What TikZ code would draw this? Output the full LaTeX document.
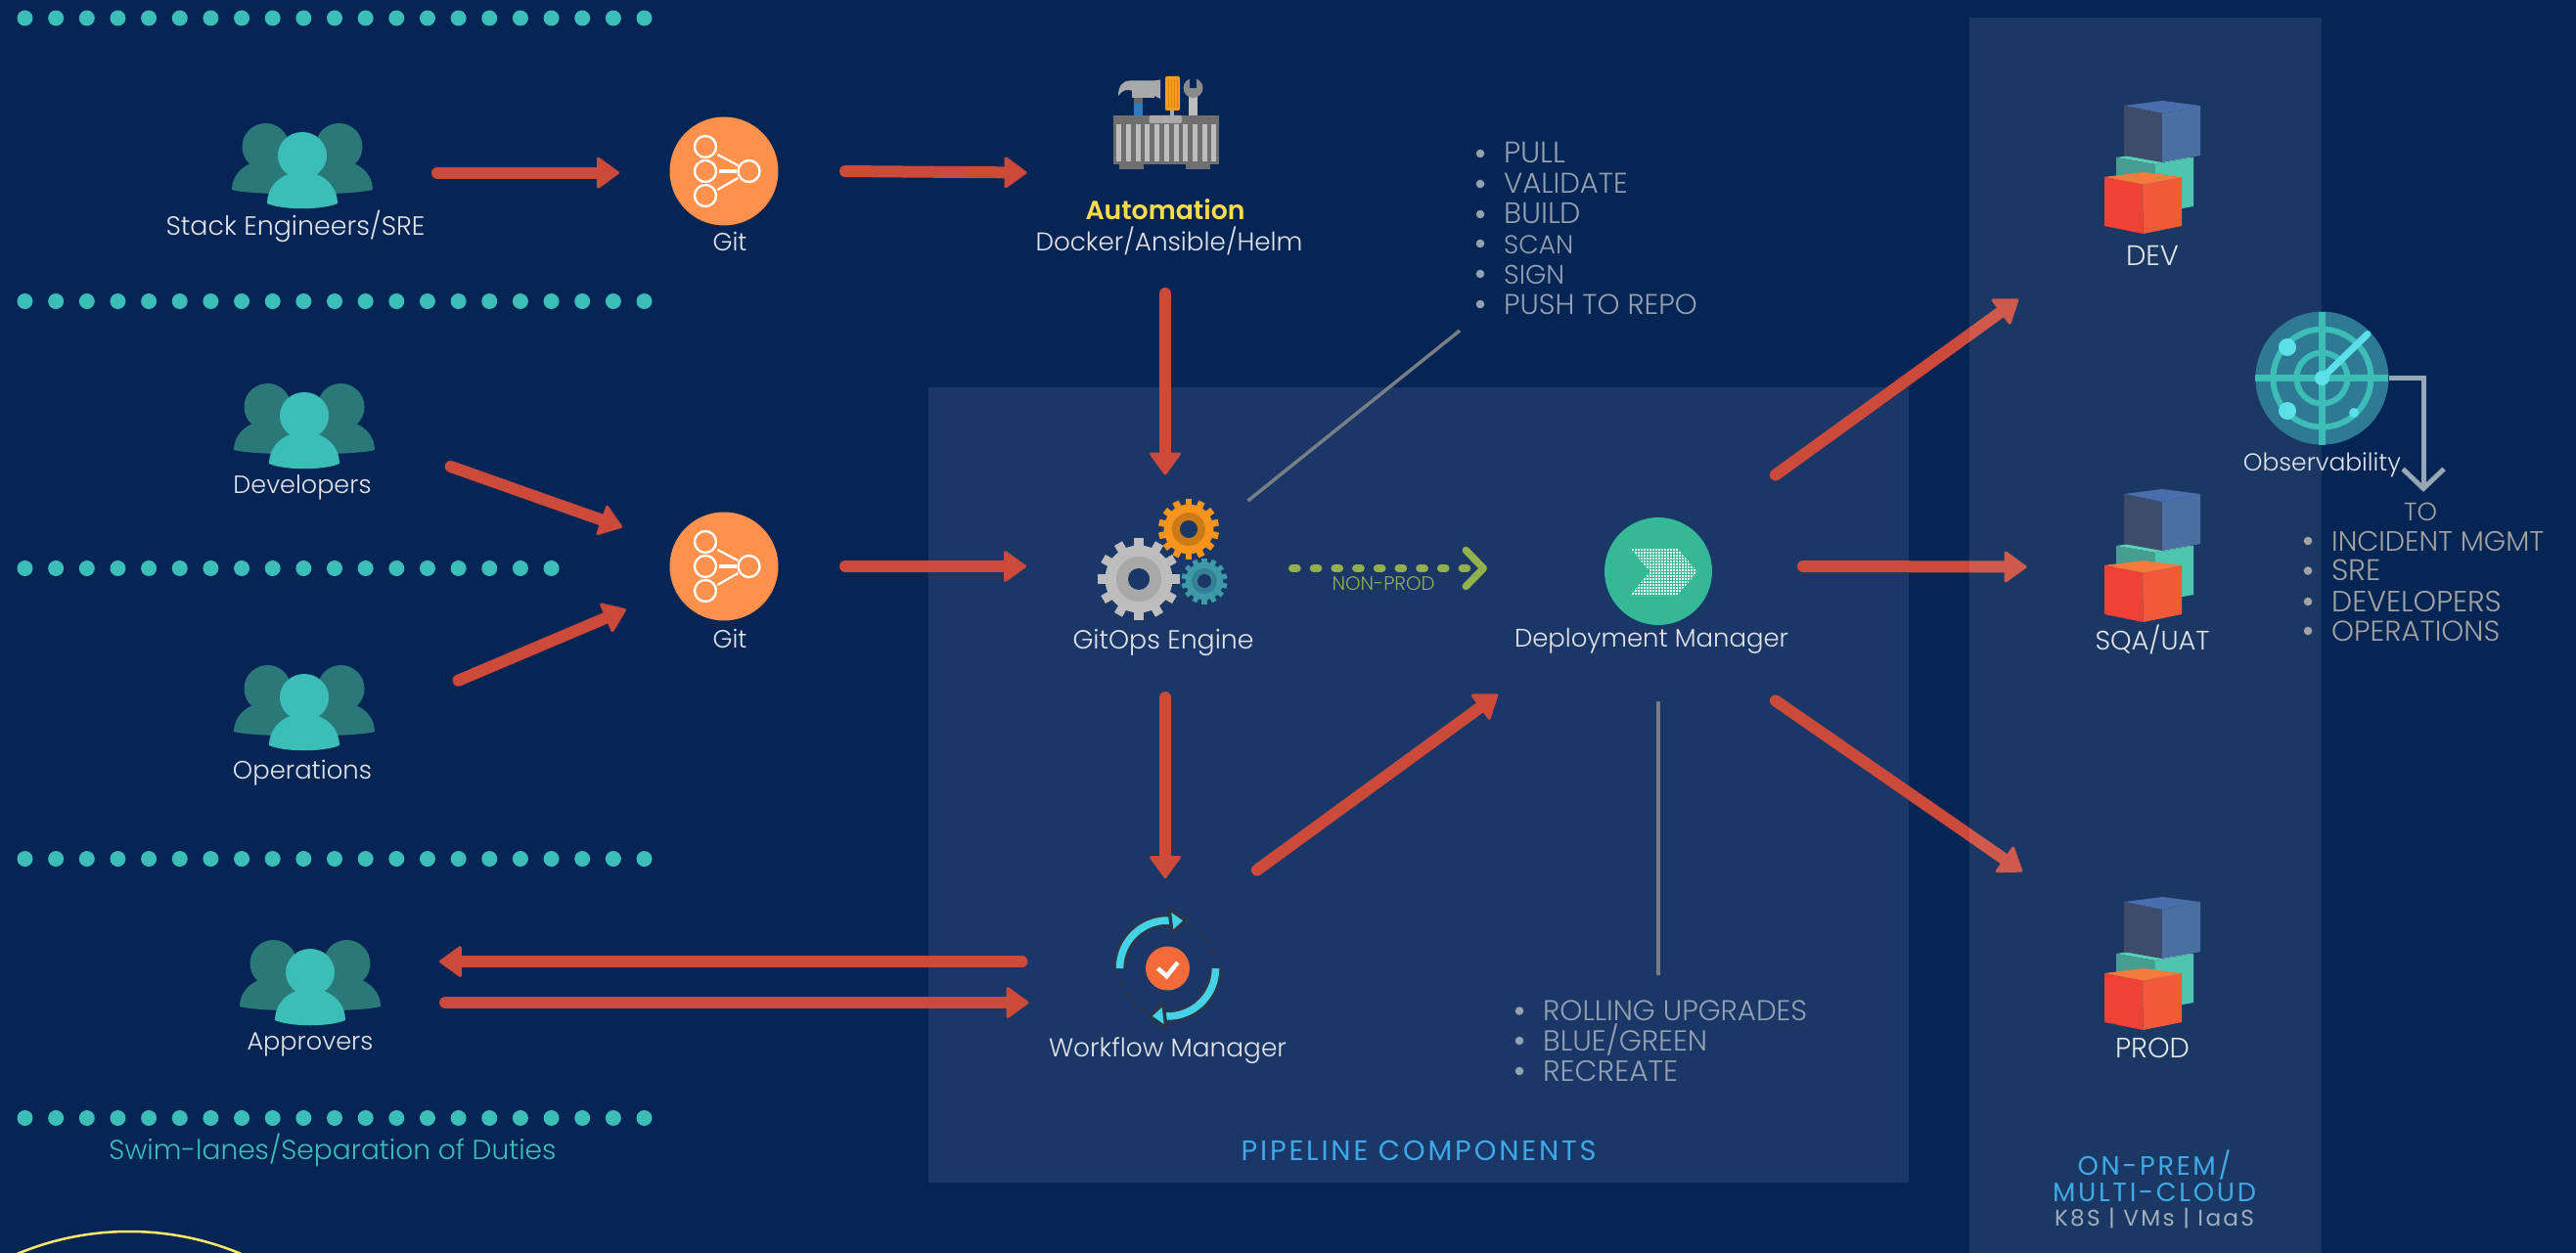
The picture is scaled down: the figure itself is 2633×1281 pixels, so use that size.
\documentclass[tikz,border=0pt]{standalone}
\usepackage{graphicx}
\usepackage{fontspec}
\setmainfont{Poppins}[UprightFont=* Light,BoldFont=* SemiBold]
\newfontfamily\spaced{Poppins}[LetterSpace=10]
\usetikzlibrary{arrows.meta,calc}
\definecolor{bgc}{HTML}{052555}
\definecolor{panelc}{HTML}{1A3767}
\definecolor{redc}{HTML}{CB4A3A}
\definecolor{tealc}{HTML}{3DBDB8}
\definecolor{dteal}{HTML}{2B7878}
\definecolor{lblc}{HTML}{E2E4E8}
\definecolor{listc}{HTML}{94A1B0}
\definecolor{greyl}{HTML}{787D86}
\definecolor{greenc}{HTML}{93B04E}
\definecolor{bluec}{HTML}{3FA9E8}
\definecolor{orgc}{HTML}{FF914D}
\definecolor{cyanc}{HTML}{45D2E8}
\definecolor{darkc}{HTML}{2B3648}
\definecolor{depc}{HTML}{35B895}
\definecolor{kc}{HTML}{A0AEBC}
\definecolor{toc}{HTML}{A3A3A3}
\definecolor{yelc}{HTML}{FFDD4A}
\newcommand\fit[2]{\resizebox{#1pt}{!}{#2}}
\newcommand\rowdots[2]{\foreach \i in {1,...,#2}{\fill[tealc] ({25.5+(\i-1)*31.65},#1) circle (8);}}
\newcommand\people[2]{%
\begin{scope}[shift={(#1,#2)}]
\fill[dteal] (-37.5,24) ellipse (24 and 24) (37.5,24) ellipse (24 and 24);
\fill[dteal] (-72,68) .. controls (-72,54) and (-62,44) .. (-50,40) -- (50,40) .. controls (62,44) and (72,54) .. (72,68) .. controls (50,74) and (-50,74) .. (-72,68) -- cycle;
\fill[tealc] (0,33) ellipse (25 and 24);
\fill[tealc] (-36,82) .. controls (-36,67) and (-26,56) .. (-14,52) -- (14,52) .. controls (26,56) and (36,67) .. (36,82) .. controls (20,89) and (-20,89) .. (-36,82) -- cycle;
\end{scope}}
\newcommand\gitmark[1]{%
\begin{scope}[shift={(#1)}]
\draw[white,line width=2.4] (-19,-25) circle (11) (-19,0) circle (11) (-19,25) circle (11) (25.5,0) circle (11);
\draw[white,line width=2.2] (-6.6,-17) -- (14.3,-6) (-6.6,19) -- (14.3,7);
\draw[white,line width=3.5] (-5,0) -- (13,0);
\end{scope}}
\newcommand\gearicon[8]{%
\begin{scope}[shift={(#1,#2)}]
\foreach \i in {1,...,#8}{\fill[#6,rotate=\i*360/#8] ({-#3*.11},0) rectangle ({#3*.11},#3);}
\fill[#6] (0,0) circle ({#3*.82});
\fill[#7] (0,0) circle (#4);
\fill[panelc] (0,0) circle (#5);
\end{scope}}
\newcommand\cubes[1]{%
\begin{scope}[shift={(2210,#1)}]
\fill[HTML=5AD0B5] (-47,58) -- (-7,52) -- (32,58) -- (-7,65) -- cycle;
\fill[HTML=459E90] (-47,58) -- (-7,65) -- (-7,115) -- (-47,108) -- cycle;
\fill[HTML=4FC4AE] (32,58) -- (-7,65) -- (-7,115) -- (32,108) -- cycle;
\fill[HTML=4A6DAB] (-39,5) -- (0,0) -- (39,5) -- (0,13) -- cycle;
\fill[HTML=3E4C6C] (-39,5) -- (0,13) -- (0,63) -- (-39,56) -- cycle;
\fill[HTML=4A6FA0] (39,5) -- (0,13) -- (0,63) -- (39,56) -- cycle;
\fill[HTML=F47B3E] (-59,78) -- (-19.5,73) -- (20,78) -- (-19.5,85.5) -- cycle;
\fill[HTML=EF4136] (-59,78) -- (-19.5,85.5) -- (-19.5,136) -- (-59,128) -- cycle;
\fill[HTML=F15A36] (20,78) -- (-19.5,85.5) -- (-19.5,136) -- (20,128) -- cycle;
\end{scope}}
\newcommand\wfhalf{%
\draw[darkc,line width=13] (-49,0) arc (180:274:49);
\draw[cyanc,line width=7.5] (-49,0) arc (180:274:49);
\fill[cyanc,draw=darkc,line width=3.5,line join=round] (1.5,-61) -- (18.5,-49) -- (4.5,-36) -- cycle;
\draw[darkc,line width=4,dash pattern=on 4 off 7] (24,-43) arc (-60.8:-8:49.5);}
\tikzset{
 HTML/.code={\definecolor{tmpc}{HTML}{#1}\pgfkeysalso{color=tmpc}},
 flow/.style={redc,line width=12,line cap=round,shorten <=6pt,-{Triangle[length=24pt,width=34pt,line width=3pt,round]}},
 leader/.style={greyl,line width=3.5},
 lbl/.style={text=lblc,anchor=base,yshift=-10pt,inner sep=0,font=\fontsize{24}{28}\selectfont},
 litem/.style={text=listc,anchor=base west,yshift=-10pt,inner sep=0,font=\fontsize{24}{28}\selectfont},
 bullet/.style={circle,fill=listc,minimum size=8.6pt,inner sep=0},
 ttl/.style={text=bluec,anchor=base,yshift=-10pt,inner sep=0,font=\fontsize{24}{28}\spaced},
}
\begin{document}
\begin{tikzpicture}[x=1pt,y=-1pt]
\useasboundingbox (0,0) rectangle (2633,1281);
\clip (0,0) rectangle (2633,1281);
\fill[bgc] (0,0) rectangle (2633,1281);
\fill[panelc] (949,396) rectangle (1951,1209);
% swim lanes
\rowdots{18.5}{21}
\rowdots{308}{21}
\rowdots{581}{18}
\rowdots{878}{21}
\rowdots{1143}{21}
\node[text=tealc,anchor=base,yshift=-10pt,inner sep=0,font=\fontsize{24}{28}\selectfont] (swim) at (340,1175) {\fit{457}{Swim-lanes/Separation of Duties}};
\draw[HTML=FFE866,line width=2.5] (132,1555) circle (296);
% actors
\coordinate (stack) at (309,170);
\coordinate (devs) at (311,436);
\coordinate (ops) at (311,724);
\coordinate (appr) at (317,1005);
\people{309}{126}
\people{311}{392}
\people{311}{680}
\people{317}{961}
\node[lbl] (stackl) at (302,231) {\fit{265}{Stack Engineers/SRE}};
\node[lbl] (devl) at (309,494) {\fit{141}{Developers}};
\node[lbl] (opsl) at (309,786) {\fit{142}{Operations}};
\node[lbl] (appl) at (317,1063) {\fit{129}{Approvers}};
% git
\node[circle,fill=orgc,minimum size=111pt,inner sep=0] (git1) at (740,175) {};
\node[circle,fill=orgc,minimum size=111pt,inner sep=0] (git2) at (740,579) {};
\gitmark{git1}
\gitmark{git2}
\node[lbl] (git1l) at (746,247) {\fit{35}{Git}};
\node[lbl] (git2l) at (746,652) {\fit{35}{Git}};
% toolbox
\coordinate (auto) at (1192,125);
\fill[HTML=A9A9A9] (1143,98) .. controls (1143,88) and (1147,82.4) .. (1156,82.4) -- (1180,82.4) -- (1186,81.5) -- (1186,101) -- (1180,98) -- (1160,94) .. controls (1152,90) and (1147,92) .. (1143,98) -- cycle;
\fill[HTML=A9A9A9] (1157,88) rectangle (1180,100);
\fill[HTML=666666] (1159,100) rectangle (1168,106);
\fill[HTML=2F7BBF] (1159,106) rectangle (1168,118);
\fill[HTML=F59E1B,rounded corners=2] (1191,78) rectangle (1206,113);
\foreach \x in {1194,1197,1200,1203}{\draw[HTML=D9860F,line width=.8] (\x,81) -- (\x,110);}
\fill[HTML=AAAAAA] (1196,113) rectangle (1200,118);
\fill[HTML=BDBDBD] (1215,98) rectangle (1224,118);
\fill[HTML=8A8A8A] (1219.5,90) circle (10);
\fill[bgc] (1216,79) rectangle (1223,90);
\fill[HTML=6F6F6F] (1138,118) rectangle (1246,168);
\fill[HTML=6F6F6F] (1144,168) rectangle (1169,173);
\fill[HTML=6F6F6F] (1212,168) rectangle (1237,173);
\foreach \i in {0,...,10}{\fill[HTML=BDBDBD] ({1141.3+\i*9.7},127) rectangle ++(5,38);}
\fill[HTML=AAAAAA,rounded corners=1.5] (1174.5,118) rectangle (1208,126);
\node[text=yelc,anchor=base,yshift=-10pt,inner sep=0,font=\fontsize{24}{28}\selectfont\bfseries] (autot) at (1191,215) {\fit{163}{Automation}};
\node[lbl] (autol) at (1195,247) {\fit{273}{Docker/Ansible/Helm}};
% gears
\coordinate (gitops) at (1190,570);
\gearicon{1164}{592}{42}{23}{11}{HTML=BDBDBD}{HTML=A8A8A8}{12}
\gearicon{1231}{594}{23.5}{13}{7}{HTML=3C9AA8}{HTML=347F93}{14}
\gearicon{1215}{541}{31}{17}{9}{HTML=F7941D}{HTML=CC7A16}{14}
\node[lbl] (gitopsl) at (1189,653) {\fit{185}{GitOps Engine}};
% deployment
\node[circle,fill=depc,minimum size=110pt,inner sep=0] (depm) at (1695,584) {};
\begin{scope}
\clip (1666,560) -- (1714,560) -- (1735,584.5) -- (1714,609) -- (1666,609) -- (1686.5,584.5) -- cycle;
\foreach \i in {0,...,24}{\fill[white] ({1665+\i*3},559) rectangle ++(2.4,51);}
\foreach \i in {0,...,17}{\fill[depc] (1660,{559.5+\i*3}) rectangle ++(80,.6);}
\end{scope}
\node[lbl] (depml) at (1688,651) {\fit{280}{Deployment Manager}};
% workflow
\coordinate (wf) at (1193.5,990);
\begin{scope}[shift={(wf)}]
\wfhalf
\begin{scope}[rotate=180]\wfhalf\end{scope}
\fill[HTML=F26B38] (0,0) circle (22.5);
\draw[white,line width=4.5] (-10,0) -- (-1,8) -- (10.3,-6);
\end{scope}
\node[lbl] (wfl) at (1193.5,1070) {\fit{243}{Workflow Manager}};
% lists
\coordinate (pushlist) at (1620,235);
\foreach \t/\w/\y in {PULL/63/157,VALIDATE/126.5/188,BUILD/79/219,SCAN/71/249,SIGN/62/280,PUSH TO REPO/197.5/311}{
 \node[bullet] at (1513,\y) {};
 \node[litem] at (1537,\y) {\fit{\w}{\t}};}
\coordinate (rolllist) at (1720,1064);
\foreach \t/\w/\y in {ROLLING UPGRADES/270/1033.5,{BLUE/GREEN}/168/1064,RECREATE/138/1095}{
 \node[bullet] at (1553,\y) {};
 \node[litem] at (1577,\y) {\fit{\w}{\t}};}
\node[text=greenc,anchor=base,yshift=-5.5pt,inner sep=0,font=\fontsize{15}{18}\selectfont] (nonprod) at (1414,598) {\fit{105}{NON-PROD}};
\node[ttl] (pipet) at (1450,1176) {\fit{363}{PIPELINE COMPONENTS}};
% connectors
\coordinate (envdev) at (2210,135);
\coordinate (envsqa) at (2210,532);
\coordinate (envprod) at (2210,985);
\draw[leader] ([shift={(85.5,-58)}]gitops) -- ([shift={(-128,103)}]pushlist);
\draw[leader] ([shift={(0,133)}]depm.center) -- ([shift={(-25,-67)}]rolllist);
\draw[greenc,line width=8,line cap=round,dash pattern=on 4.7 off 17,shorten <=4pt,-{Straight Barb[length=18pt,width=37pt,line width=7.5pt,round]}] ([shift={(127,11)}]gitops) -- ([shift={(-175,-3)}]depm.center);
\draw[flow] ([shift={(132,6.7)}]stack) -- ([shift={(-107,1.7)}]git1.center);
\draw[flow] ([shift={(118,0)}]git1.center) -- ([shift={(-142.5,51.5)}]auto);
\draw[flow] ([shift={(-1,169)}]auto) -- ([shift={(1,-84.5)}]gitops);
\draw[flow] ([shift={(144,39)}]devs) -- ([shift={(-104,-40)}]git2.center);
\draw[flow] ([shift={(152,-26)}]ops) -- ([shift={(-100,44)}]git2.center);
\draw[flow] ([shift={(118,0)}]git2.center) -- ([shift={(-141,9)}]gitops);
\draw[flow] ([shift={(1,137)}]gitops) -- ([shift={(-2.5,-92)}]wf);
\draw[flow] ([shift={(86.5,-97)}]wf) -- ([shift={(-164,126)}]depm.center);
\draw[flow] ([shift={(115,-95)}]depm.center) -- ([shift={(-147,171)}]envdev);
\draw[flow] ([shift={(142,-5)}]depm.center) -- ([shift={(-138.5,47.5)}]envsqa);
\draw[flow] ([shift={(115,129)}]depm.center) -- ([shift={(-143,-94)}]envprod);
\draw[flow] ([shift={(-143,-7)}]wf) -- ([shift={(132,-22)}]appr);
\draw[flow] ([shift={(132,20)}]appr) -- ([shift={(-142,35)}]wf);
% environment panel
\fill[white,fill opacity=.09] (2013,18) rectangle (2373,1281);
\cubes{103}
\cubes{500}
\cubes{917}
\node[lbl] (devt) at (2200,262) {\fit{54}{DEV}};
\node[lbl] (sqat) at (2200,654) {\fit{117}{SQA/UAT}};
\node[lbl] (prodt) at (2200,1071) {\fit{76}{PROD}};
\node[ttl] (onprem) at (2202,1191) {\fit{157}{ON-PREM/}};
\node[ttl] (multi) at (2202,1218) {\fit{208}{MULTI-CLOUD}};
\node[text=kc,anchor=base,yshift=-8pt,inner sep=0,font=\fontsize{20}{24}\spaced] (k8s) at (2202,1245) {\fit{204}{K8S | VMs | IaaS}};
% observability
\coordinate (obs) at (2373.4,386.6);
\fill[HTML=2E7A94] (obs) circle (68);
\draw[tealc,line width=7] (2305.4,386.6) -- (2441.4,386.6) (2373.4,318.6) -- (2373.4,454.6);
\draw[tealc,line width=6] (obs) circle (50) (obs) circle (26);
\draw[HTML=5BE0E8,line width=7,line cap=round] (obs) -- (2420,341.5);
\fill[HTML=5BE0E8] (obs) circle (7.5) (2338,355) circle (9) (2338,420) circle (9) (2406,422) circle (5);
\node[lbl] (obsl) at (2373.4,471) {\fit{161}{Observability}};
\node[text=toc,anchor=base,yshift=-10pt,inner sep=0,font=\fontsize{24}{28}\selectfont] (to) at (2474,522) {\fit{34}{TO}};
\draw[HTML=97A7B6,line width=5,-{Straight Barb[length=20pt,width=42pt,line width=5pt]}] ([shift={(68.6,0)}]obs) -| ([shift={(3,-20)}]to.center);
\foreach \t/\w/\y in {INCIDENT MGMT/217/553,SRE/50.5/583.5,DEVELOPERS/173.6/615,OPERATIONS/172/645}{
 \node[circle,fill=toc,minimum size=8.6pt,inner sep=0] at (2359,\y) {};
 \node[text=toc,anchor=base west,yshift=-10pt,inner sep=0,font=\fontsize{24}{28}\selectfont] at (2383,\y) {\fit{\w}{\t}};}
\end{tikzpicture}
\end{document}
